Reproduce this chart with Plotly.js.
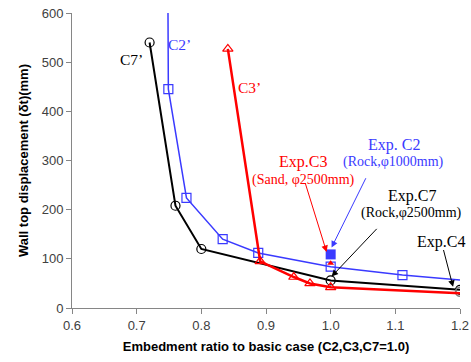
<!DOCTYPE html>
<html><head><meta charset="utf-8">
<script src="https://cdn.plot.ly/plotly-3.0.1.min.js"></script>
<style>html,body{margin:0;padding:0;background:#fff}#chart{width:471px;height:362px}</style>
</head><body><div id="chart"></div>
<script>
// C7' (black, circles)
const c7x = [0.72, 0.76, 0.80, 1.00, 1.20];
const c7y = [540, 208, 120, 56, 37];
// C2' (blue, squares) - first point above the axis range
const c2x = [0.748, 0.749, 0.777, 0.833, 0.888, 1.00, 1.111, 1.20];
const c2y = [720, 445, 224, 140, 112, 84, 67, 57];
// C3' (red, triangles)
const c3x = [0.841, 0.891, 0.943, 0.968, 1.00, 1.20];
const c3y = [527, 95, 63, 50, 42, 30];
// Experimental points
const expC2 = {x: [1.00], y: [109]};
const expC3 = {x: [1.00], y: [91]};
const expC4 = {x: [1.20], y: [33]};
const xTicks = [0.6, 0.7, 0.8, 0.9, 1.0, 1.1, 1.2];
const xTickText = ['0.6', '0.7', '0.8', '0.9', '1.0', '1.1', '1.2'];
const yTicks = [0, 100, 200, 300, 400, 500, 600];

const BLUE = '#3a3aff', RED = '#ff0000', BLACK = '#000000';
const serif = 'Liberation Serif, Times New Roman, serif';

const traces = [
  {x: c2x, y: c2y, mode: 'lines+markers', line: {color: BLUE, width: 1.5},
   marker: {symbol: 'square-open', size: 9, color: BLUE, opacity: [0,1,1,1,1,1,1,0], line: {width: 1.2}}},
  {x: c7x, y: c7y, mode: 'lines+markers', line: {color: BLACK, width: 2},
   marker: {symbol: 'circle-open', size: 9, color: BLACK, line: {width: 1.2}}},
  {x: expC4.x, y: expC4.y, mode: 'markers',
   marker: {symbol: 'circle-open', size: 9, color: '#808080', line: {width: 1.5}}},
  {x: c3x, y: c3y, mode: 'lines+markers', line: {color: RED, width: 2.5},
   marker: {symbol: 'triangle-up-open', size: 9, color: RED, opacity: [1,1,1,1,1,0], line: {width: 1.2}}},
  {x: expC2.x, y: expC2.y, mode: 'markers', marker: {symbol: 'square', size: 10, color: BLUE}},
  {x: expC3.x, y: expC3.y, mode: 'markers', marker: {symbol: 'triangle-up', size: 6, color: RED}}
];

function txt(x, y, text, color, size) {
  return {x: x, y: y, xref: 'x', yref: 'y', text: text, showarrow: false,
          font: {family: serif, size: size, color: color}};
}
function arr(x, y, ax, ay, color) {
  return {x: x, y: y, ax: ax, ay: ay, xref: 'x', yref: 'y', axref: 'x', ayref: 'y',
          text: '', showarrow: true, arrowhead: 2, arrowsize: 1.3, arrowwidth: 1,
          arrowcolor: color};
}

const annotations = [
  txt(0.692, 506, 'C7’', BLACK, 15.5),
  txt(0.767, 535, 'C2’', BLUE, 15.5),
  txt(0.874, 448, 'C3’', RED, 15.5),
  txt(1.0977, 332, 'Exp. C2', BLUE, 16),
  txt(1.0977, 296, '(Rock,φ1000mm)', BLUE, 14),
  txt(0.9575, 296, 'Exp.C3', RED, 16),
  txt(0.9575, 260, '(Sand, φ2500mm)', RED, 14),
  txt(1.125, 228, 'Exp.C7', BLACK, 16),
  txt(1.125, 193, '(Rock,φ2500mm)', BLACK, 14),
  txt(1.171, 135, 'Exp.C4', BLACK, 16),
  arr(0.9937, 114, 0.960, 257, RED),
  arr(1.0014, 123, 1.0555, 267, BLUE),
  arr(1.0014, 64, 1.0734, 164, BLACK),
  arr(1.1893, 43, 1.1739, 121, BLACK)
];

const axisCommon = {
  showgrid: false, zeroline: false, showline: true, linecolor: '#868686', linewidth: 1,
  ticks: 'outside', ticklen: 5, tickcolor: '#868686', tickwidth: 1,
  tickfont: {family: 'Liberation Sans, Arial, sans-serif', size: 13, color: '#404040'}
};

const layout = {
  width: 471, height: 362,
  margin: {l: 72, r: 11, t: 13, b: 54},
  paper_bgcolor: '#fff', plot_bgcolor: '#fff',
  showlegend: false,
  xaxis: Object.assign({}, axisCommon, {
    range: [0.6, 1.2], tickvals: xTicks, ticktext: xTickText,
    title: {text: 'Embedment ratio to basic case (C2,C3,C7=1.0)', standoff: 10,
            font: {family: 'Liberation Sans, Arial, sans-serif', size: 13, color: '#000', weight: 'bold'}}
  }),
  yaxis: Object.assign({}, axisCommon, {
    range: [0, 600], tickvals: yTicks,
    title: {text: 'Wall top displacement (δt)(mm)', standoff: 10,
            font: {family: 'Liberation Sans, Arial, sans-serif', size: 13, color: '#000', weight: 'bold'}}
  }),
  annotations: annotations
};

Plotly.newPlot('chart', traces, layout, {displayModeBar: false, staticPlot: true});
</script></body></html>
